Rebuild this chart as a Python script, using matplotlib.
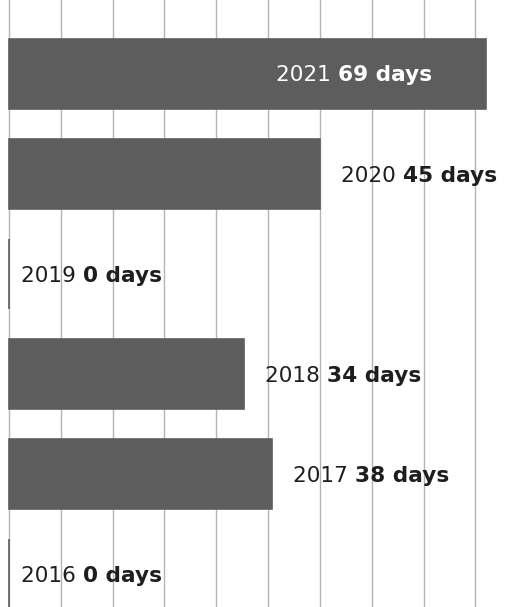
import matplotlib
matplotlib.use("Agg")
import matplotlib.pyplot as plt
import numpy as np

years = ["2021", "2020", "2019", "2018", "2017", "2016"]
days = [69, 45, 0, 34, 38, 0]
grid_step = 7.5
grid_max = 67.5

plt.rcParams['font.family'] = ['DejaVu Sans']

fig = plt.figure(figsize=(5.31, 6.07), dpi=100)
ax = fig.add_axes([0, 0, 1, 1])

px_per_day = 6.91
x0_px = 9
ax.set_xlim(-x0_px / px_per_day, (531 - x0_px) / px_per_day)
ax.set_ylim(5.33, -0.74)

# grid
for g in np.arange(0, grid_max + 0.01, grid_step):
    ax.axvline(g, color="#b4b4b4", lw=1.0, zorder=0)

bar_color = "#5d5d5d"
ypos = np.arange(len(years))
ax.barh(ypos, days, height=0.7, color=bar_color, edgecolor=bar_color,
        linewidth=1.2, zorder=2)

fs = 15.6
txt_dark = "#1e1e1e"
for i, (yr, d) in enumerate(zip(years, days)):
    if d >= 60:
        tv = ax.text(d - 7.8, i + 0.01, f"{d} days", ha="right", va="center",
                     fontsize=fs, fontweight="bold", color="white", zorder=3)
        ax.annotate(f"{yr} ", xy=(0, 0), xycoords=tv, ha="right", va="bottom",
                    fontsize=fs, color="white", zorder=3)
    else:
        x = d + (3.1 if d > 0 else 1.8)
        ty = ax.text(x, i + 0.025, f"{yr} ", ha="left", va="center",
                     fontsize=fs, color=txt_dark, zorder=3)
        ax.annotate(f"{d} days", xy=(1, 0), xycoords=ty, ha="left", va="bottom",
                    fontsize=fs, fontweight="bold", color=txt_dark, zorder=3)

for s in ax.spines.values():
    s.set_visible(False)
ax.set_xticks([])
ax.set_yticks([])

fig.savefig("out.png", dpi=100, facecolor="white")
